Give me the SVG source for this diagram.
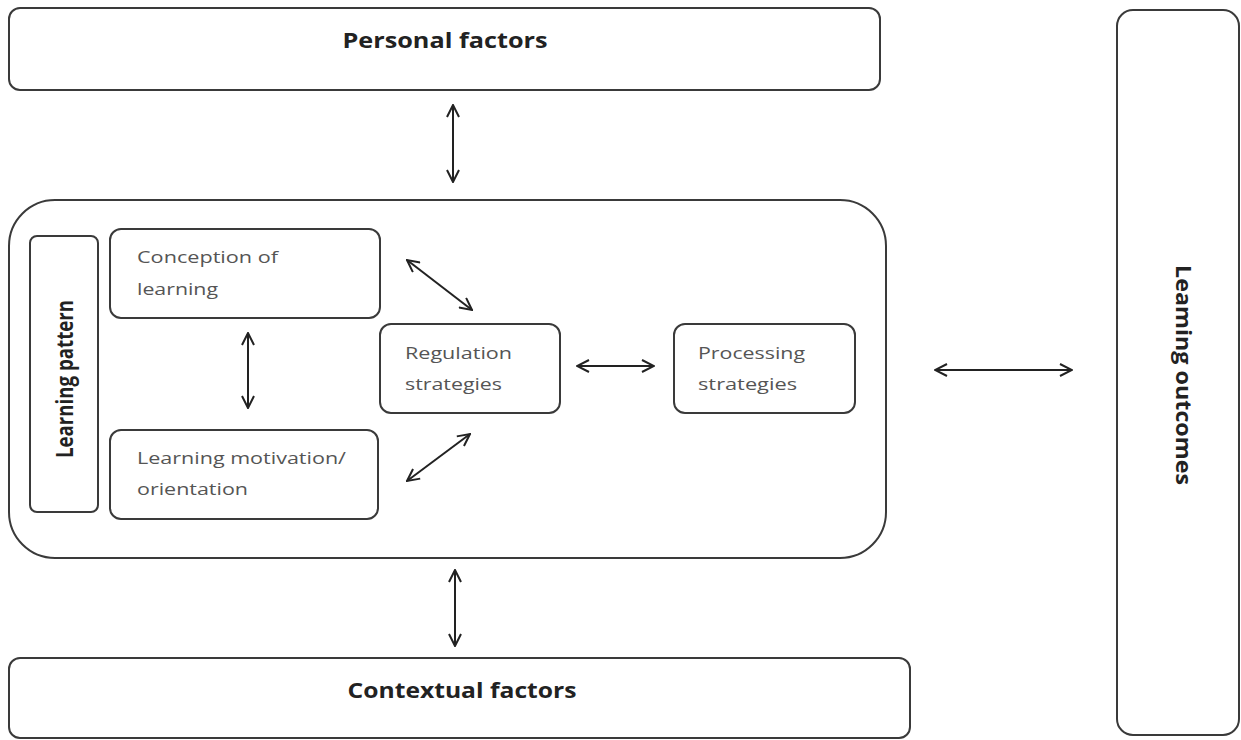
<svg xmlns="http://www.w3.org/2000/svg" width="1241" height="740" viewBox="0 0 1241 740">
  <style>
    .box { fill: #ffffff; stroke: #3a3a3a; stroke-width: 2; }
    .title { font-family: "Open Sans", "Liberation Sans", sans-serif; font-weight: bold; font-size: 21px; fill: #222222; }
    .label { font-family: "Open Sans", "Liberation Sans", sans-serif; font-size: 16px; fill: #555555; }
    .conn { stroke: #222222; stroke-width: 2; fill: none; marker-start: url(#head); marker-end: url(#head); }
  </style>
  <defs>
    <marker id="head" viewBox="0 0 14 14" refX="13" refY="7" markerWidth="14" markerHeight="14" markerUnits="userSpaceOnUse" orient="auto-start-reverse">
      <path d="M1,1 L13,7 L1,13" fill="none" stroke="#222222" stroke-width="2"/>
    </marker>
  </defs>
  <rect width="1241" height="740" fill="#ffffff"/>

  <g id="personal-factors">
    <rect class="box" x="9" y="8" width="871" height="82" rx="11"/>
    <text class="title" x="445" y="48" text-anchor="middle" textLength="205" lengthAdjust="spacingAndGlyphs">Personal factors</text>
  </g>

  <g id="learning-pattern-frame">
    <rect class="box" x="9" y="200" width="877" height="358" rx="46"/>
  </g>

  <g id="learning-pattern">
    <rect class="box" x="30" y="236" width="68" height="276" rx="7"/>
    <text class="title" style="font-size:23px" transform="translate(73,379) rotate(-90)" text-anchor="middle" textLength="158" lengthAdjust="spacingAndGlyphs">Learning pattern</text>
  </g>

  <g id="conception">
    <rect class="box" x="110" y="229" width="270" height="89" rx="11"/>
    <text class="label" x="137" y="263" textLength="141" lengthAdjust="spacingAndGlyphs">Conception of</text>
    <text class="label" x="137" y="295" textLength="81" lengthAdjust="spacingAndGlyphs">learning</text>
  </g>

  <g id="motivation">
    <rect class="box" x="110" y="430" width="268" height="89" rx="11"/>
    <text class="label" x="137" y="464" textLength="209" lengthAdjust="spacingAndGlyphs">Learning motivation/</text>
    <text class="label" x="137" y="495" textLength="111" lengthAdjust="spacingAndGlyphs">orientation</text>
  </g>

  <g id="regulation">
    <rect class="box" x="380" y="324" width="180" height="89" rx="11"/>
    <text class="label" x="405" y="359" textLength="107" lengthAdjust="spacingAndGlyphs">Regulation</text>
    <text class="label" x="405" y="390" textLength="97" lengthAdjust="spacingAndGlyphs">strategies</text>
  </g>

  <g id="processing">
    <rect class="box" x="674" y="324" width="181" height="89" rx="11"/>
    <text class="label" x="698" y="359" textLength="107" lengthAdjust="spacingAndGlyphs">Processing</text>
    <text class="label" x="698" y="390" textLength="99" lengthAdjust="spacingAndGlyphs">strategies</text>
  </g>

  <g id="learning-outcomes">
    <rect class="box" x="1117" y="10" width="122" height="725" rx="16"/>
    <text class="title" transform="translate(1176,375) rotate(90)" text-anchor="middle" textLength="220" lengthAdjust="spacingAndGlyphs">Leaming outcomes</text>
  </g>

  <g id="contextual-factors">
    <rect class="box" x="9" y="658" width="901" height="80" rx="11"/>
    <text class="title" x="462" y="698" text-anchor="middle" textLength="229" lengthAdjust="spacingAndGlyphs">Contextual factors</text>
  </g>

  <g id="connectors">
    <line class="conn" x1="453" y1="105" x2="453" y2="182"/>
    <line class="conn" x1="248" y1="333" x2="248" y2="408"/>
    <line class="conn" x1="407" y1="260" x2="472" y2="310"/>
    <line class="conn" x1="407" y1="481" x2="470" y2="434"/>
    <line class="conn" x1="577" y1="366" x2="654" y2="366"/>
    <line class="conn" x1="935" y1="370" x2="1072" y2="370"/>
    <line class="conn" x1="455" y1="570" x2="455" y2="646"/>
  </g>
</svg>
